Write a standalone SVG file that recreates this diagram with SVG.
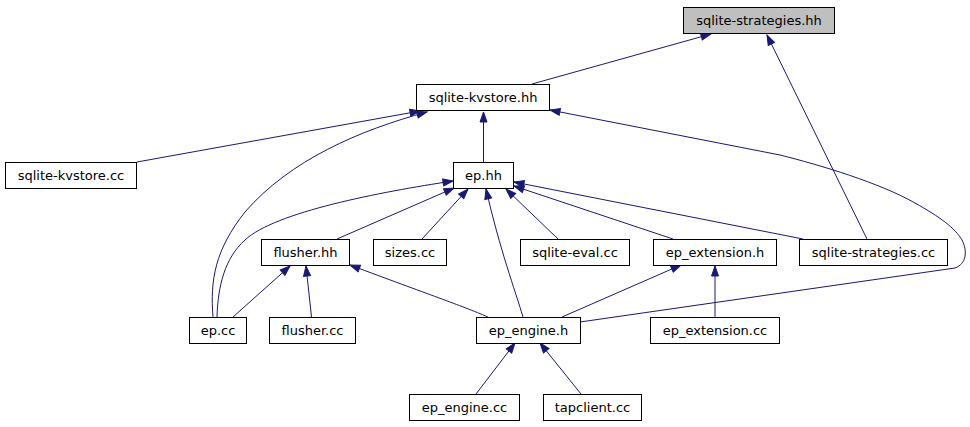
<svg xmlns="http://www.w3.org/2000/svg" width="970" height="427" viewBox="0 0 970 427">
<style>
.n rect{fill:#fff;stroke:#000;stroke-width:1}
.n.g rect{fill:#bfbfbf}
.n text{font-family:"DejaVu Sans",sans-serif;font-size:13px;text-anchor:middle;fill:#000}
.e path{fill:none;stroke:#191970;stroke-width:1;marker-end:url(#a)}
</style>
<defs>
<marker id="a" markerWidth="10" markerHeight="7" refX="10" refY="3.5" orient="auto" markerUnits="userSpaceOnUse" overflow="visible">
<path d="M0,0L10,3.5L0,7z" fill="#191970" stroke="#191970" stroke-width="1"/>
</marker>
</defs>
<rect width="970" height="427" fill="#fff"/>
<g id="edges" class="e">
<path d="M532,84L711,34"/>
<path d="M867,239L767,35"/>
<path d="M137,162L420,111"/>
<path d="M213,317C210,280 215,250 245,212C290,160 360,130 427,112"/>
<path d="M483.5,162L483.5,112"/>
<path d="M580,322L955,268C966,264 968,252 962,240C955,228 940,217 915,203C880,183 820,165 780,155L550,110"/>
<path d="M217,317C218,285 225,258 245,240C275,212 380,192 453,181"/>
<path d="M337,239L454,188"/>
<path d="M422,239L468,189"/>
<path d="M523,317C515,290 500,250 486,189"/>
<path d="M558,239L506,189"/>
<path d="M673,239L514,186"/>
<path d="M803,239L514,182"/>
<path d="M233,317L290,266"/>
<path d="M311.5,317L306,266"/>
<path d="M488,317C460,305 430,295 350,265"/>
<path d="M562,317L681,265"/>
<path d="M715,317L715,266"/>
<path d="M476,394L515,343"/>
<path d="M581,394L540,343"/>
</g>
<g id="n1" class="n g"><rect x="683.5" y="7.5" width="151" height="26"/><text x="759" y="25">sqlite-strategies.hh</text></g>
<g id="n2" class="n"><rect x="416.5" y="84.5" width="133" height="26"/><text x="483" y="102">sqlite-kvstore.hh</text></g>
<g id="n3" class="n"><rect x="5.5" y="162.5" width="131" height="26"/><text x="71" y="180">sqlite-kvstore.cc</text></g>
<g id="n4" class="n"><rect x="453.5" y="162.5" width="60" height="26"/><text x="483.5" y="180">ep.hh</text></g>
<g id="n5" class="n"><rect x="261.5" y="239.5" width="88" height="26"/><text x="305.5" y="257">flusher.hh</text></g>
<g id="n6" class="n"><rect x="373.5" y="239.5" width="73" height="26"/><text x="410" y="257">sizes.cc</text></g>
<g id="n7" class="n"><rect x="520.5" y="239.5" width="109" height="26"/><text x="575" y="257">sqlite-eval.cc</text></g>
<g id="n8" class="n"><rect x="653.5" y="239.5" width="123" height="26"/><text x="715" y="257">ep_extension.h</text></g>
<g id="n9" class="n"><rect x="799.5" y="239.5" width="148" height="26"/><text x="873.5" y="257">sqlite-strategies.cc</text></g>
<g id="n10" class="n"><rect x="189.5" y="317.5" width="57" height="26"/><text x="218" y="335">ep.cc</text></g>
<g id="n11" class="n"><rect x="269.5" y="317.5" width="86" height="26"/><text x="312.5" y="335">flusher.cc</text></g>
<g id="n12" class="n"><rect x="476.5" y="317.5" width="104" height="26"/><text x="528.5" y="335">ep_engine.h</text></g>
<g id="n13" class="n"><rect x="650.5" y="317.5" width="129" height="26"/><text x="715" y="335">ep_extension.cc</text></g>
<g id="n14" class="n"><rect x="409.5" y="394.5" width="110" height="26"/><text x="464.5" y="412">ep_engine.cc</text></g>
<g id="n15" class="n"><rect x="543.5" y="394.5" width="98" height="26"/><text x="592.5" y="412">tapclient.cc</text></g>
</svg>
